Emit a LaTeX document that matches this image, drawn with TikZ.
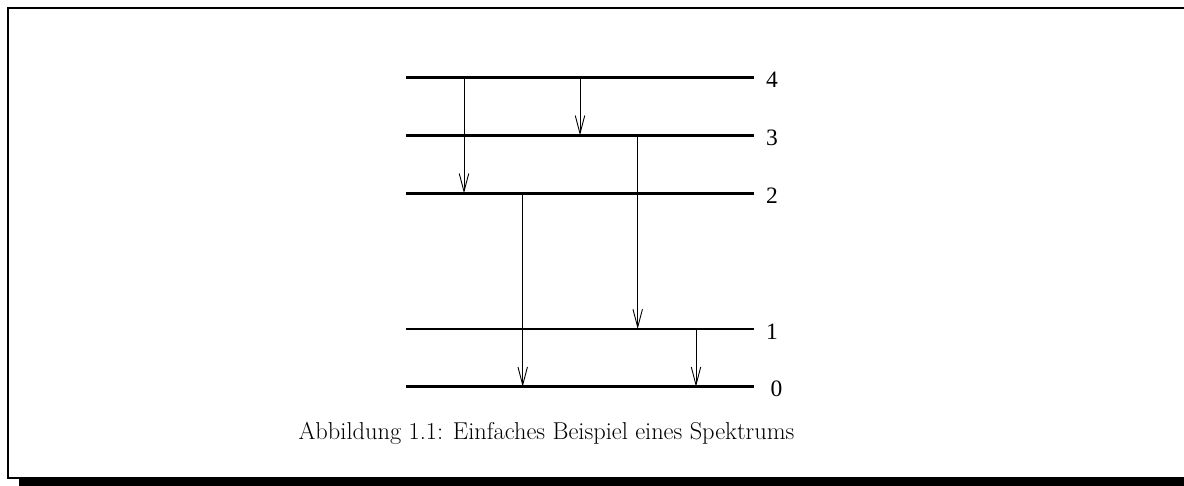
\documentclass[tikz,border=0pt]{standalone}
\usepackage{fontspec}
\newfontfamily\labfont{Liberation Serif}
\usetikzlibrary{arrows.meta}
\begin{document}
\begin{tikzpicture}[x=1pt,y=-1pt,
  frameline/.style={line width=2.4pt},
  levelline/.style={line width=2.6pt},
  trans/.style={line width=0.9pt,-{Straight Barb[length=18pt,width=9.5pt,line width=0.9pt]}},
  lvllabel/.style={anchor=base west,inner sep=0pt,font=\labfont\fontsize{23.5}{26}\selectfont},
  captext/.style={anchor=base,inner sep=0pt,font=\fontsize{24.4}{28}\selectfont}]
\useasboundingbox (0,0) rectangle (1184,485);
% frame
\draw[frameline] (1190,8) -- (8,8) -- (8,477.8) -- (1190,477.8);
\fill (19,479) rectangle (1190,490);
% levels
\foreach \n/\y in {4/77.3,3/135.3,2/193.3,1/329,0/386.7}{
  \coordinate (L\n w) at (406,\y);
  \coordinate (L\n e) at (754,\y);
  \draw[levelline] (L\n w) -- (L\n e);
}
\node[lvllabel] (t4) at (766,87.7) {4};
\node[lvllabel] (t3) at (766,145.7) {3};
\node[lvllabel] (t2) at (766,203.7) {2};
\node[lvllabel] (t1) at (766,339) {1};
\node[lvllabel] (t0) at (770.5,396.7) {0};
% transitions
\coordinate (a42s) at (464,77.3);   \coordinate (a42e) at (464,193.3);
\coordinate (a43s) at (580,77.3);   \coordinate (a43e) at (580,135.3);
\coordinate (a31s) at (637.7,135.3);\coordinate (a31e) at (637.7,329);
\coordinate (a20s) at (522.7,193.3);\coordinate (a20e) at (522.7,386.7);
\coordinate (a10s) at (696,329);    \coordinate (a10e) at (696,386.7);
\draw[trans] (a42s) -- (a42e);
\draw[trans] (a43s) -- (a43e);
\draw[trans] (a31s) -- (a31e);
\draw[trans] (a20s) -- (a20e);
\draw[trans] (a10s) -- (a10e);
% caption
\node[captext] (cap) at (546.5,439.3) {Abbildung 1.1: Einfaches Beispiel eines Spektrums};
\end{tikzpicture}
\end{document}
